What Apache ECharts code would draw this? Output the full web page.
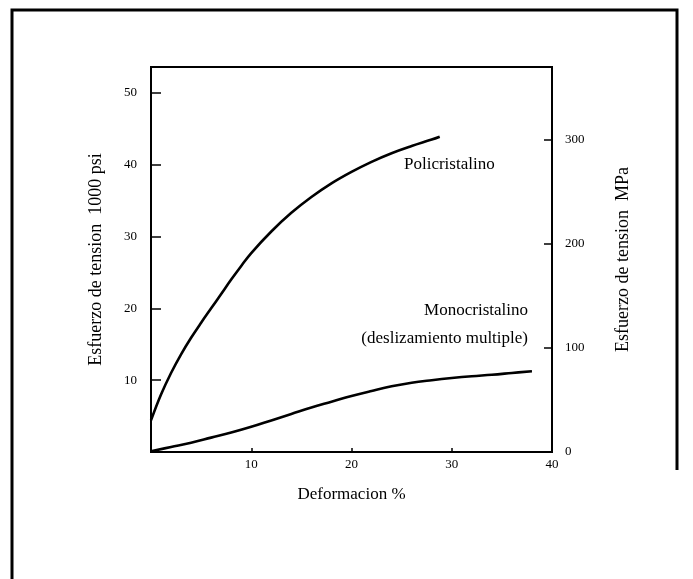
<!DOCTYPE html>
<html>
<head>
<meta charset="utf-8">
<script src="https://cdn.jsdelivr.net/npm/echarts@6/dist/echarts.min.js"></script>
<style>
  html, body { margin: 0; padding: 0; background: #fff; }
  #main { width: 693px; height: 579px; }
</style>
</head>
<body>
<div id="main"></div>
<script>
// deformacion (%) y esfuerzo (1000 psi)
const polyStrain = [0, 1, 2, 3, 4, 5, 6, 7, 8, 9, 10, 12, 14, 16, 18, 20, 22, 24, 26, 28, 28.8];
const polyStress = [4.4, 8, 11, 13.6, 15.9, 18, 20, 22, 24, 25.9, 27.7, 30.7, 33.3, 35.5, 37.4, 39, 40.4, 41.6, 42.6, 43.5, 43.9];

const monoStrain = [0, 2, 4, 6, 8, 10, 12, 14, 16, 18, 20, 22, 24, 26, 28, 30, 32, 34, 36, 38];
const monoStress = [0.1, 0.7, 1.3, 2.0, 2.7, 3.5, 4.4, 5.3, 6.2, 7.0, 7.8, 8.5, 9.15, 9.65, 10.0, 10.3, 10.55, 10.75, 11.0, 11.25];

const xTicks = [10, 20, 30, 40];
const psiTicks = [10, 20, 30, 40, 50];
const mpaTicks = [0, 100, 200, 300];

const KSI_TO_MPA = 6.895;
const psiMax = 53.6;

const serif = '"Liberation Serif", "DejaVu Serif", serif';

const myChart = echarts.init(document.getElementById('main'));

function pairs(xs, ys) {
  const out = [];
  for (let i = 0; i < xs.length; i++) {
    out.push([xs[i], ys[i]]);
  }
  return out;
}

const option = {
  backgroundColor: '#fff',
  animation: false,
  grid: {
    left: 151, top: 67, right: 141, bottom: 127,
    show: true, borderColor: '#000', borderWidth: 2
  },
  xAxis: {
    type: 'value',
    min: 0, max: 40,
    name: 'Deformacion %',
    nameLocation: 'middle',
    nameGap: 34,
    nameTextStyle: { fontFamily: serif, fontSize: 17, color: '#000' },
    splitLine: { show: false },
    axisLine: { lineStyle: { color: '#000', width: 2 } },
    axisTick: { inside: true, length: 4, customValues: xTicks, lineStyle: { color: '#000', width: 1.5 } },
    axisLabel: { customValues: xTicks, margin: 6, fontFamily: serif, fontSize: 13, color: '#000' }
  },
  yAxis: [
    {
      type: 'value',
      position: 'left',
      min: 0, max: psiMax,
      name: 'Esfuerzo de tension  1000 psi',
      nameLocation: 'middle',
      nameRotate: 90,
      nameGap: 46,
      nameTextStyle: { fontFamily: serif, fontSize: 18, color: '#000' },
      splitLine: { show: false },
      axisLine: { show: true, lineStyle: { color: '#000', width: 2 } },
      axisTick: { show: true, inside: true, length: 10, customValues: psiTicks, lineStyle: { color: '#000', width: 1.5 } },
      axisLabel: { customValues: psiTicks, margin: 14, fontFamily: serif, fontSize: 13, color: '#000' }
    },
    {
      type: 'value',
      position: 'right',
      min: 0, max: psiMax * KSI_TO_MPA,
      alignTicks: false,
      name: 'Esfuerzo de tension  MPa',
      nameLocation: 'middle',
      nameRotate: 90,
      nameGap: 62,
      nameTextStyle: { fontFamily: serif, fontSize: 18, color: '#000' },
      splitLine: { show: false },
      axisLine: { show: true, lineStyle: { color: '#000', width: 2 } },
      axisTick: { show: true, inside: true, length: 8, customValues: mpaTicks, lineStyle: { color: '#000', width: 1.5 } },
      axisLabel: { customValues: mpaTicks, margin: 13, fontFamily: serif, fontSize: 13, color: '#000' }
    }
  ],
  series: [
    {
      name: 'Policristalino',
      type: 'line',
      yAxisIndex: 0,
      smooth: 0.4,
      showSymbol: false,
      lineStyle: { color: '#000', width: 2.6 },
      data: pairs(polyStrain, polyStress)
    },
    {
      name: 'Monocristalino',
      type: 'line',
      yAxisIndex: 0,
      smooth: 0.4,
      showSymbol: false,
      lineStyle: { color: '#000', width: 2.6 },
      data: pairs(monoStrain, monoStress)
    }
  ],
  graphic: [
    {
      type: 'polyline',
      shape: { points: [[12, 579], [12, 10], [677, 10], [677, 470]] },
      style: { stroke: '#000', lineWidth: 3, fill: null }
    },
    {
      type: 'text', left: 404, top: 156,
      style: { text: 'Policristalino', font: '17px ' + serif, fill: '#000' }
    },
    {
      type: 'text', right: 165, top: 302,
      style: { text: 'Monocristalino', font: '17px ' + serif, fill: '#000', textAlign: 'right' }
    },
    {
      type: 'text', right: 165, top: 330,
      style: { text: '(deslizamiento multiple)', font: '17px ' + serif, fill: '#000', textAlign: 'right' }
    }
  ]
};

myChart.setOption(option);
</script>
</body>
</html>
